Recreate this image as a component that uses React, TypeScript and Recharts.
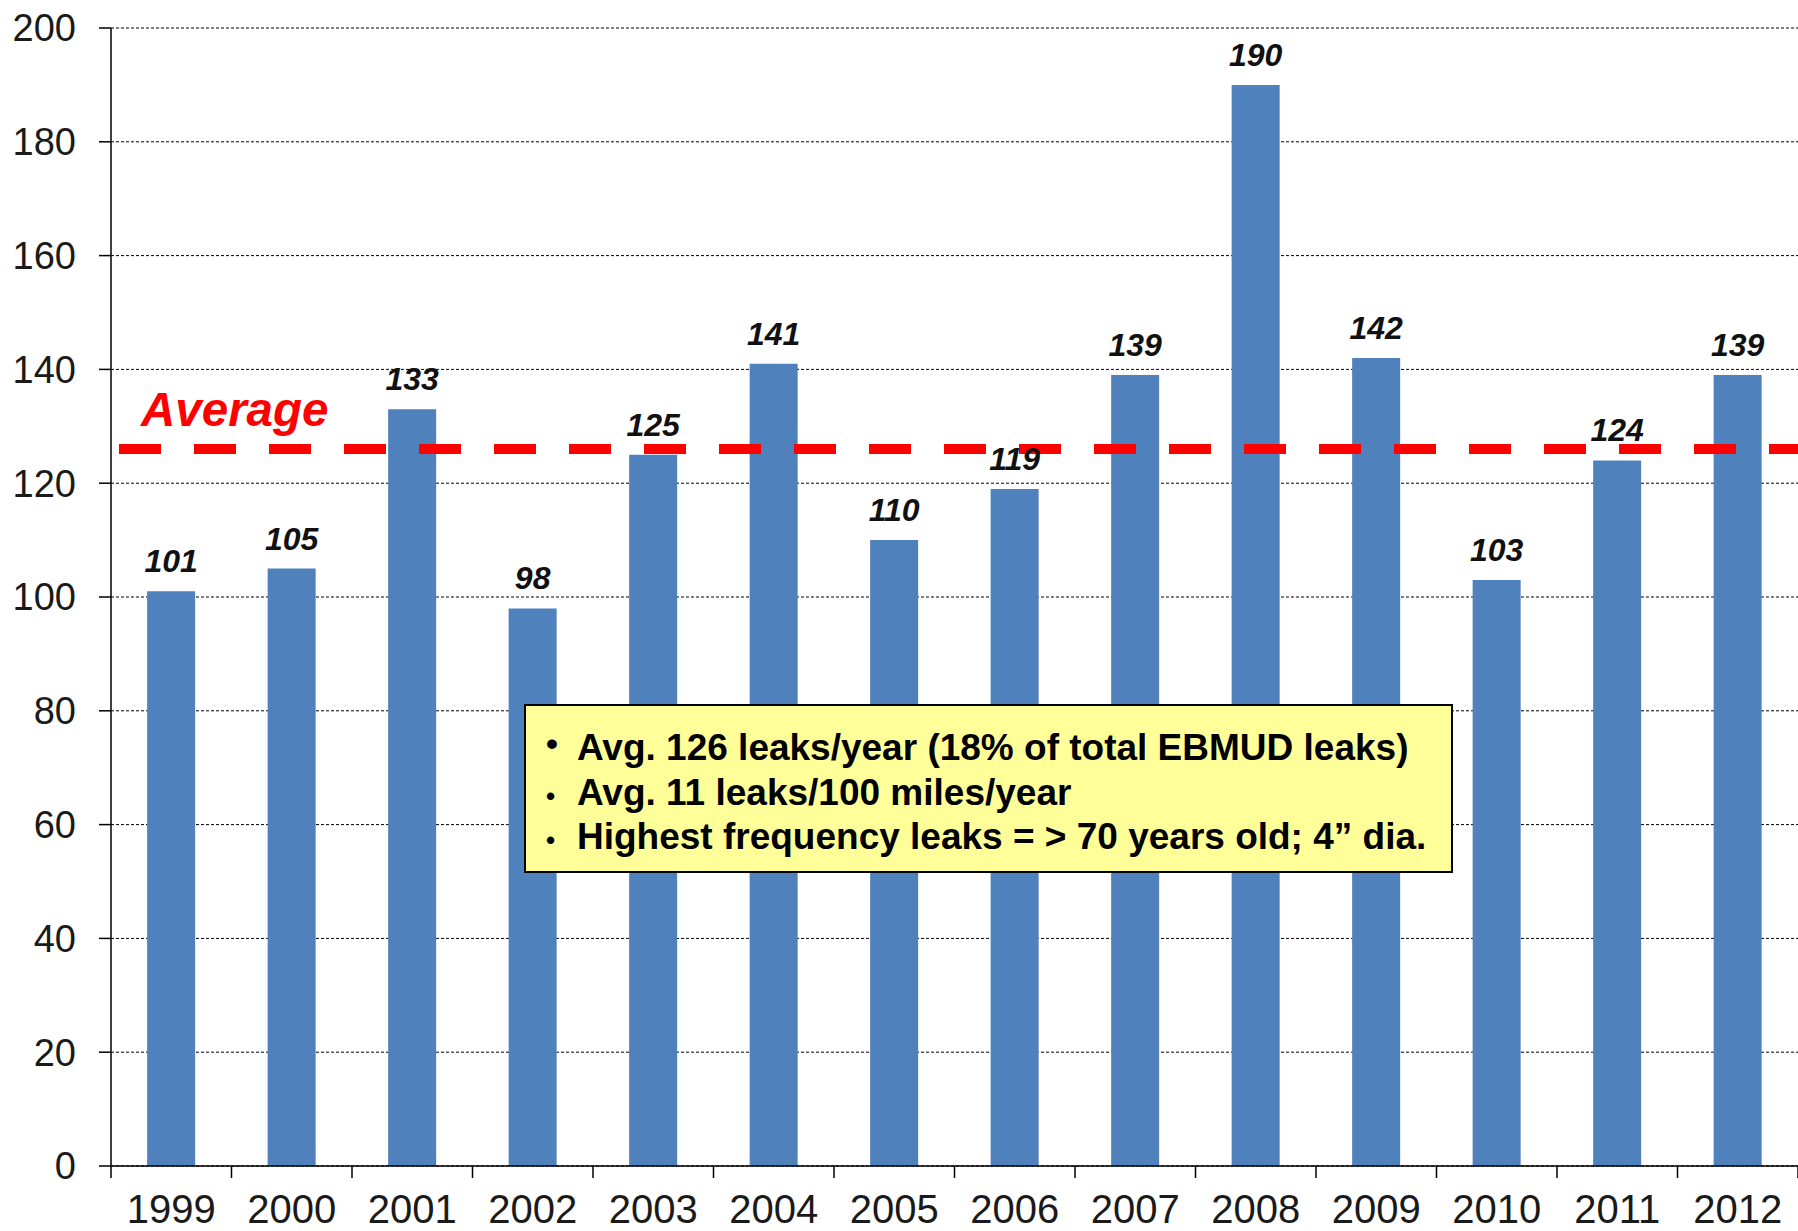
import React from 'react';
import { BarChart, Bar, XAxis, YAxis, CartesianGrid, ReferenceLine, LabelList } from 'recharts';

const years = ['1999', '2000', '2001', '2002', '2003', '2004', '2005', '2006', '2007', '2008', '2009', '2010', '2011', '2012'];
const leaks = [101, 105, 133, 98, 125, 141, 110, 119, 139, 190, 142, 103, 124, 139];
const yTicks = [0, 20, 40, 60, 80, 100, 120, 140, 160, 180, 200];
const averageValue = 126;
const noteLines = [
  'Avg. 126 leaks/year (18% of total EBMUD leaks)',
  'Avg. 11 leaks/100 miles/year',
  'Highest frequency leaks = > 70 years old; 4\u201d dia.',
];

const data = years.map((y, i) => ({ year: y, value: leaks[i] }));

const FONT = '"Liberation Sans", Arial, Helvetica, sans-serif';
const X_TICK_SIZE = 12;
const X_TICK_MARGIN = 17;

const YearTick = (props: any) => {
  const { x, y, payload, index, visibleTicksCount } = props;
  const half = (payload && payload.offset) || 0;
  const axisY = y - X_TICK_MARGIN - X_TICK_SIZE;
  const isLast = index === visibleTicksCount - 1;
  return (
    <g>
      <line x1={x - half} x2={x - half} y1={axisY} y2={axisY + X_TICK_SIZE} stroke="#000" strokeWidth={1.5} />
      {isLast && (
        <line x1={x + half} x2={x + half} y1={axisY} y2={axisY + X_TICK_SIZE} stroke="#000" strokeWidth={1.5} />
      )}
      <text x={x} y={y} dy="0.71em" textAnchor="middle" fill="#1a1a1a" fontSize={40} fontFamily={FONT}>
        {payload.value}
      </text>
    </g>
  );
};

const AverageLabel = (props: any) => {
  const vb = props.viewBox || {};
  return (
    <text
      x={vb.x + 30}
      y={vb.y - 23}
      fill="#ff0000"
      fontFamily={FONT}
      fontWeight="bold"
      fontStyle="italic"
      fontSize={47.5}
    >
      Average
    </text>
  );
};

export default function App() {
  return (
    <div style={{ position: 'absolute', left: 0, top: 0, width: 1798, height: 1231, background: '#fff' }}>
      <BarChart
        width={1798}
        height={1231}
        data={data}
        margin={{ top: 28, right: 0, left: 0, bottom: 0 }}
        barCategoryGap="30%"
      >
        <CartesianGrid vertical={false} stroke="#000" strokeDasharray="3 2" strokeWidth={1} />
        <XAxis
          dataKey="year"
          height={65}
          axisLine={{ stroke: '#000', strokeWidth: 1.5 }}
          tickLine={false}
          tickSize={X_TICK_SIZE}
          tickMargin={X_TICK_MARGIN}
          interval={0}
          tick={<YearTick />}
        />
        <YAxis
          width={111}
          domain={[0, 200]}
          ticks={yTicks}
          interval={0}
          axisLine={{ stroke: '#000', strokeWidth: 1.5 }}
          tickLine={{ stroke: '#000', strokeWidth: 1.5 }}
          tickSize={12}
          tickMargin={23}
          tick={{ fill: '#1a1a1a', fontSize: 38, fontFamily: FONT }}
        />
        <Bar dataKey="value" fill="#4f81bd" isAnimationActive={false}>
          <LabelList
            dataKey="value"
            position="top"
            offset={19}
            style={{ fill: '#111', fontSize: 32, fontWeight: 'bold', fontStyle: 'italic', fontFamily: FONT }}
          />
        </Bar>
        <ReferenceLine
          y={averageValue}
          stroke="#ff0000"
          strokeWidth={10}
          strokeDasharray="42 33"
          strokeDashoffset={67}
          label={<AverageLabel />}
          ifOverflow="extendDomain"
        />
      </BarChart>
      <div
        style={{
          position: 'absolute',
          left: 524,
          top: 704,
          width: 925,
          height: 165,
          background: '#ffff99',
          border: '2px solid #000',
          fontFamily: FONT,
          fontWeight: 'bold',
          fontSize: 37,
          color: '#000',
          boxSizing: 'content-box',
        }}
      >
        {noteLines.map((t, i) => (
          <div
            key={i}
            style={{ position: 'absolute', left: 20, top: 22 + i * 44.5, whiteSpace: 'nowrap', lineHeight: '40px' }}
          >
            <span
              style={{
                display: 'inline-block',
                width: 31,
                fontSize: i === 0 ? 34 : 26,
                position: 'relative',
                top: i === 0 ? -5 : 0,
              }}
            >
              {'\u2022'}
            </span>
            {t}
          </div>
        ))}
      </div>
    </div>
  );
}
